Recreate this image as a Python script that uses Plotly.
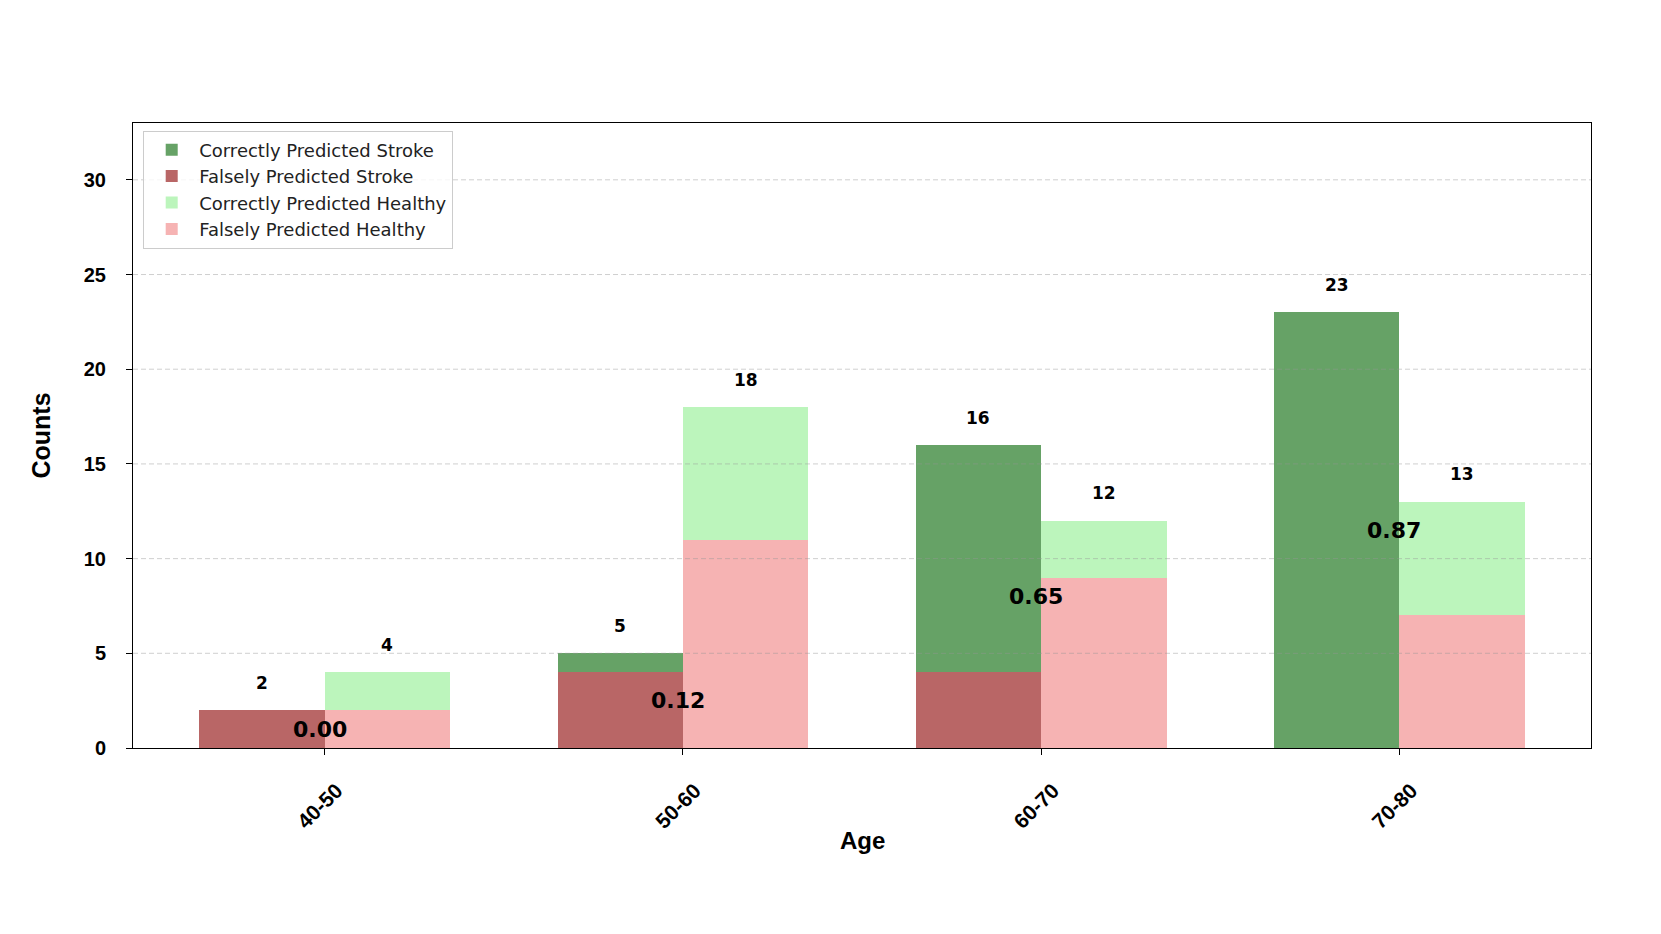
import plotly.graph_objects as go

# ---- data ----
age_groups = ["40-50", "50-60", "60-70", "70-80"]
falsely_pred_stroke = [2, 4, 4, 0]
correctly_pred_stroke = [0, 1, 12, 23]
falsely_pred_healthy = [2, 11, 9, 7]
correctly_pred_healthy = [2, 7, 3, 6]
ratio_labels = ["0.00", "0.12", "0.65", "0.87"]
y_ticks = [0, 5, 10, 15, 20, 25, 30]

BAR_W = 0.35
idx = list(range(len(age_groups)))
x_stroke = [i - BAR_W / 2 for i in idx]
x_healthy = [i + BAR_W / 2 for i in idx]
stroke_tot = [a + b for a, b in zip(falsely_pred_stroke, correctly_pred_stroke)]
healthy_tot = [a + b for a, b in zip(falsely_pred_healthy, correctly_pred_healthy)]

C_GREEN = "rgb(102,162,102)"
C_RED = "rgb(185,102,102)"
C_LGREEN = "rgb(188,245,188)"
C_PINK = "rgb(246,179,179)"

fig = go.Figure()
# stroke group: falsely stroke at bottom, correctly stroke stacked on top
fig.add_trace(go.Bar(x=x_stroke, y=falsely_pred_stroke, width=BAR_W,
                     marker=dict(color=C_RED, line=dict(width=0)),
                     name="Falsely Predicted Stroke", legendrank=2, legendgroup="b"))
fig.add_trace(go.Bar(x=x_stroke, y=correctly_pred_stroke, width=BAR_W,
                     marker=dict(color=C_GREEN, line=dict(width=0)),
                     name="Correctly Predicted Stroke", legendrank=1, legendgroup="a"))
fig.add_trace(go.Bar(x=x_healthy, y=falsely_pred_healthy, width=BAR_W,
                     marker=dict(color=C_PINK, line=dict(width=0)),
                     name="Falsely Predicted Healthy", legendrank=4, legendgroup="d"))
fig.add_trace(go.Bar(x=x_healthy, y=correctly_pred_healthy, width=BAR_W,
                     marker=dict(color=C_LGREEN, line=dict(width=0)),
                     name="Correctly Predicted Healthy", legendrank=3, legendgroup="c"))

annotations = []
count_font = dict(family="DejaVu Sans", size=17, color="black", weight="bold")
for xs, tot in zip(x_stroke + x_healthy, stroke_tot + healthy_tot):
    annotations.append(dict(x=xs, y=tot + 1.45, xref="x", yref="y", text=str(tot),
                            showarrow=False, font=count_font, yanchor="middle"))
for i, (lab, st) in enumerate(zip(ratio_labels, stroke_tot)):
    annotations.append(dict(x=i, y=st / 2, xref="x", yref="y", text=lab, xshift=-5,
                            showarrow=False, yanchor="middle",
                            font=dict(family="DejaVu Sans", size=22, color="black", weight="bold")))
# x axis title
annotations.append(dict(x=0.5, y=840, xref="paper", yref="paper", text="Age", showarrow=False,
                        font=dict(family="Liberation Sans", size=24, color="black", weight="bold"),
                        xanchor="center", yanchor="middle"))

# dashed grid drawn above the bars (as in the reference)
shapes = []
for t in y_ticks[1:]:
    shapes.append(dict(type="line", xref="paper", yref="y", x0=0, x1=1, y0=t, y1=t,
                       layer="above",
                       line=dict(color="rgba(150,150,150,0.45)", width=1, dash="5px,3px")))

# convert the x-title pixel row to paper coordinates
PLOT_TOP, PLOT_BOTTOM = 123, 748
annotations[-1]["y"] = (PLOT_BOTTOM - 840) / (PLOT_BOTTOM - PLOT_TOP)

tick_font = dict(family="Liberation Sans", size=20, color="black", weight="bold")
fig.update_layout(
    width=1661, height=934,
    barmode="stack",
    paper_bgcolor="white", plot_bgcolor="white",
    margin=dict(l=133, r=70, t=PLOT_TOP, b=934 - PLOT_BOTTOM, autoexpand=False),
    showlegend=True,
    legend=dict(x=0.007, y=0.988, xanchor="left", yanchor="top",
                bgcolor="rgba(255,255,255,0.8)", bordercolor="#cccccc", borderwidth=1,
                font=dict(family="DejaVu Sans", size=18, color="#222222"),
                itemwidth=45, tracegroupgap=5, traceorder="normal"),
    annotations=annotations,
    shapes=shapes,
    xaxis=dict(range=[-0.535, 3.535], tickmode="array", tickvals=idx, ticktext=age_groups,
               tickangle=-45, ticks="outside", ticklen=6, tickcolor="black",
               showline=True, linecolor="black", linewidth=1, mirror=True,
               showgrid=False, zeroline=False, tickfont=dict(family="Liberation Sans", size=21,
                                                             color="black", weight="bold"),
               ticklabelshift=12, ticklabelstandoff=15),
    yaxis=dict(range=[0, 33], tickmode="array", tickvals=y_ticks,
               ticks="outside", ticklen=6, tickcolor="black",
               showline=True, linecolor="black", linewidth=1, mirror=True,
               showgrid=False, zeroline=False, tickfont=tick_font, ticklabelstandoff=16,
               title=dict(text="Counts", standoff=26,
                          font=dict(family="Liberation Sans", size=25, color="black", weight="bold"))),
)

fig.write_html("out.html", config={"displayModeBar": False},
               post_script="document.body.style.margin='0';")
